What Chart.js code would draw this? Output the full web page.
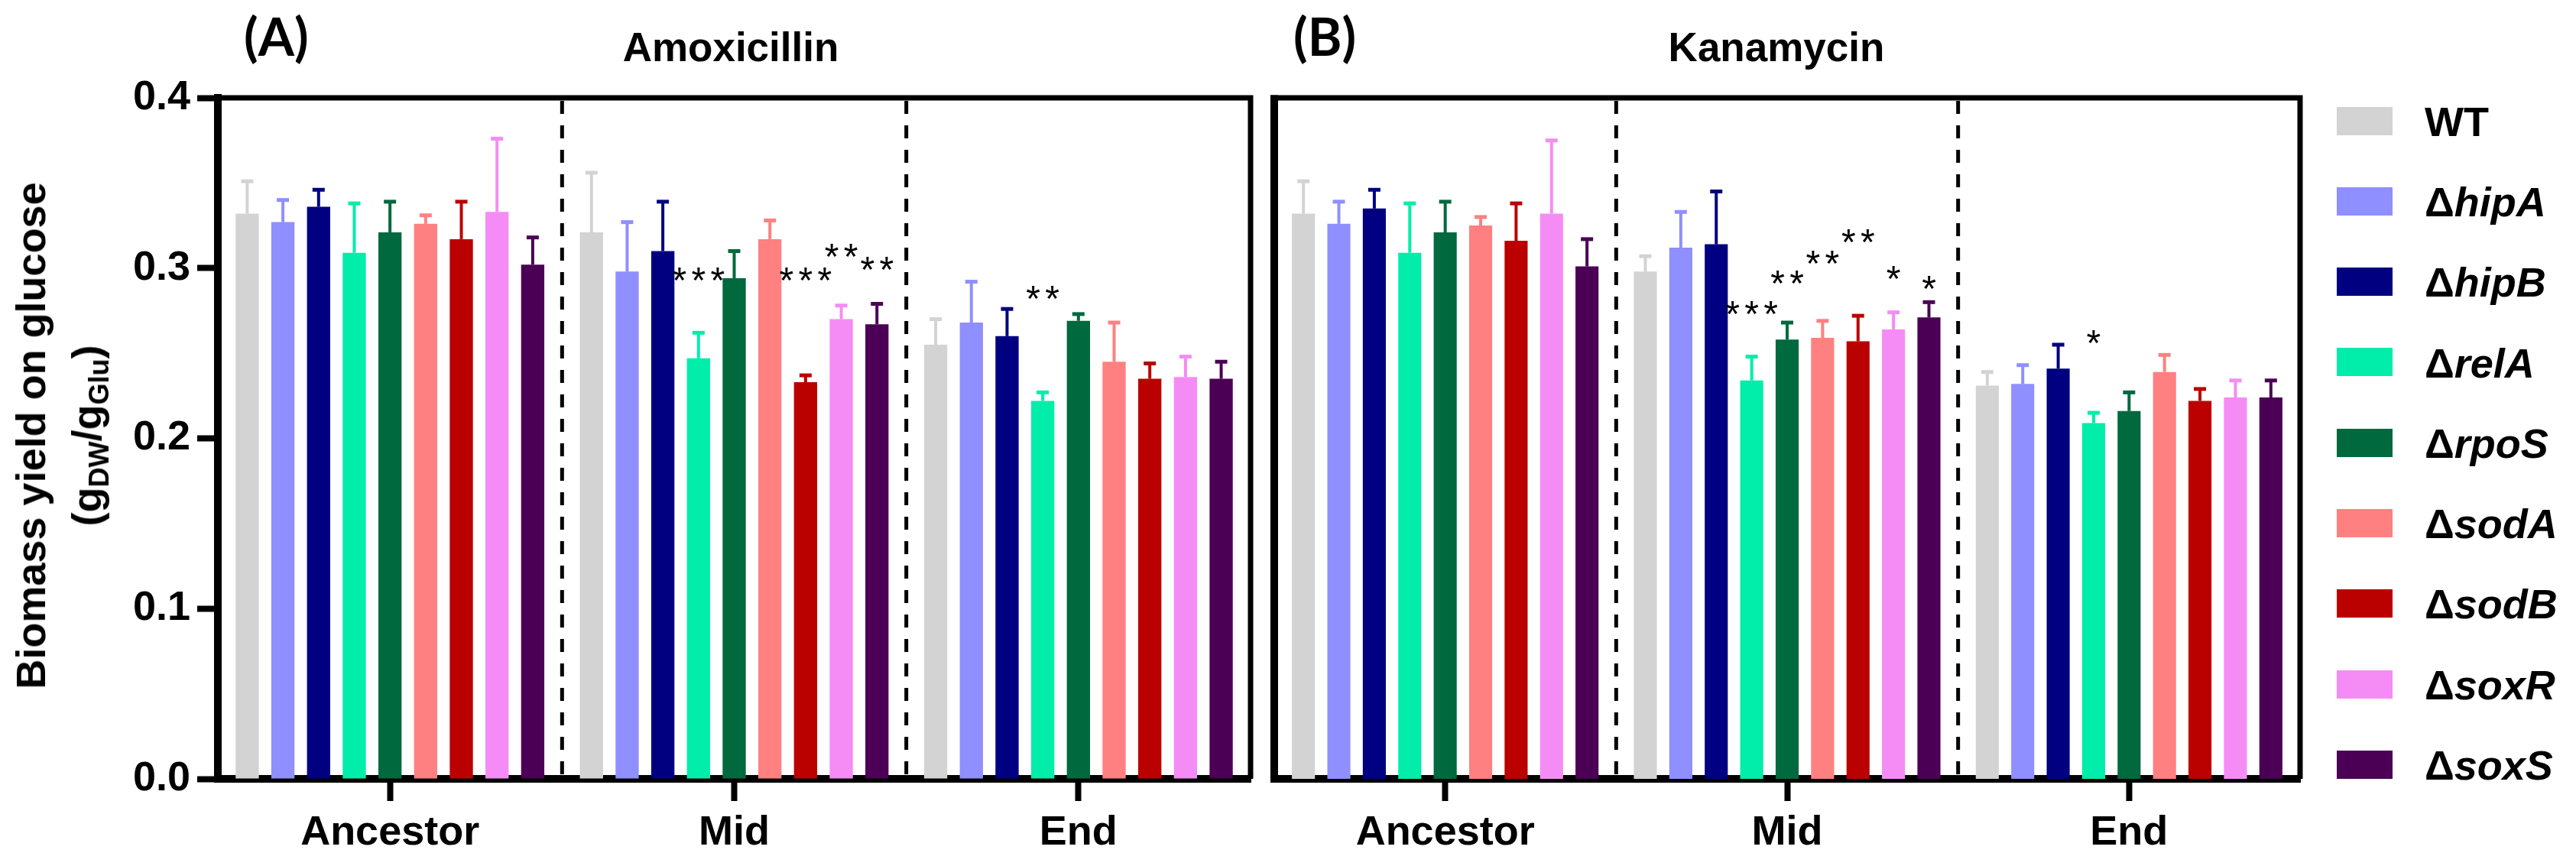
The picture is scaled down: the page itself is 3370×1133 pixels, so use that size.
<!DOCTYPE html>
<html>
<head>
<meta charset="utf-8">
<title>Biomass yield on glucose</title>
<script src="https://cdn.jsdelivr.net/npm/chart.js@4.4.1/dist/chart.umd.min.js"></script>
<style>
  html, body { margin: 0; padding: 0; background: #fff; }
  #page { position: relative; width: 3370px; height: 1133px; overflow: hidden;
          font-family: "Liberation Sans", Arial, sans-serif; color: #000; }
  canvas { position: absolute; top: 0; }
  .txt { position: absolute; line-height: 1; white-space: nowrap; font-weight: bold; }
  .panel { font-family: Lato, "Open Sans", sans-serif; font-size: 68px; font-weight: 700; }
  .title { font-size: 53px; transform: translateX(-50%); }
  .ytitle { font-size: 54px; transform: translate(-50%, -50%) rotate(-90deg); }
  .ytitle sub { font-size: 36px; vertical-align: -10px; line-height: 0; }
  .sw { position: absolute; width: 73px; height: 37px; }
  .leg { font-size: 54px; }
</style>
</head>
<body>
<div id="page">
  <canvas id="amox" width="1650" height="1133" style="left:0px;width:1650px;height:1133px"></canvas>
  <canvas id="kana" width="1720" height="1133" style="left:1650px;width:1720px;height:1133px"></canvas>

  <div class="txt panel" style="left:319px;top:13px">(A)</div>
  <div class="txt panel" style="left:1692px;top:13px">(B)</div>
  <div class="txt title" style="left:956px;top:35px">Amoxicillin</div>
  <div class="txt title" style="left:2324px;top:35px">Kanamycin</div>
  <div class="txt ytitle" style="left:40px;top:570px">Biomass yield on glucose</div>
  <div class="txt ytitle" style="left:113px;top:570px">(g<sub>DW</sub>/g<sub>Glu</sub>)</div>
  <div id="legend"></div>
</div>

<script>
const groups = ['Ancestor', 'Mid', 'End'];
const strains = ['WT', 'hipA', 'hipB', 'relA', 'rpoS', 'sodA', 'sodB', 'soxR', 'soxS'];
const colors = ['#D3D3D3', '#8F8FFF', '#000080', '#00EEAA', '#00693E',
                '#FF8080', '#BB0000', '#F58CF5', '#4B0055'];

// mean yield per strain: [Ancestor, Mid, End]
const amoxMean = [
  [0.332, 0.321, 0.255],
  [0.327, 0.298, 0.268],
  [0.336, 0.310, 0.260],
  [0.309, 0.247, 0.222],
  [0.321, 0.294, 0.269],
  [0.326, 0.317, 0.245],
  [0.317, 0.233, 0.235],
  [0.333, 0.270, 0.236],
  [0.302, 0.267, 0.235]
];
const amoxSd = [
  [0.019, 0.035, 0.015],
  [0.013, 0.029, 0.024],
  [0.010, 0.029, 0.016],
  [0.029, 0.015, 0.005],
  [0.018, 0.016, 0.004],
  [0.005, 0.011, 0.023],
  [0.022, 0.004, 0.009],
  [0.043, 0.008, 0.012],
  [0.016, 0.012, 0.010]
];
const kanaMean = [
  [0.332, 0.298, 0.231],
  [0.326, 0.312, 0.232],
  [0.335, 0.314, 0.241],
  [0.309, 0.234, 0.209],
  [0.321, 0.258, 0.216],
  [0.325, 0.259, 0.239],
  [0.316, 0.257, 0.222],
  [0.332, 0.264, 0.224],
  [0.301, 0.271, 0.224]
];
const kanaSd = [
  [0.019, 0.009, 0.008],
  [0.013, 0.021, 0.011],
  [0.011, 0.031, 0.014],
  [0.029, 0.014, 0.006],
  [0.018, 0.010, 0.011],
  [0.005, 0.010, 0.010],
  [0.022, 0.015, 0.007],
  [0.043, 0.010, 0.010],
  [0.016, 0.009, 0.010]
];
// significance marks: [group, strain, mark, level on the y axis]
const amoxStars = [
  [1, 3, '***', 0.298], [1, 6, '***', 0.298], [1, 7, '**', 0.312],
  [1, 8, '**', 0.304], [2, 3, '**', 0.287]
];
const kanaStars = [
  [1, 3, '***', 0.278], [1, 4, '**', 0.296], [1, 5, '**', 0.308],
  [1, 6, '**', 0.3205], [1, 7, '*', 0.299], [1, 8, '*', 0.293],
  [2, 3, '*', 0.261]
];
const yTicks = [0, 0.1, 0.2, 0.3, 0.4];

const FONT = '"Liberation Sans", Arial, sans-serif';

function decor(sd, stars, leftFrame) {
  return {
    id: 'decor',
    afterDatasetsDraw(chart) {
      const ctx = chart.ctx;
      const xs = chart.scales.x, ys = chart.scales.y, a = chart.chartArea;
      ctx.save();
      // error bars (upper only)
      chart.data.datasets.forEach((ds, i) => {
        chart.getDatasetMeta(i).data.forEach((bar, j) => {
          const top = ys.getPixelForValue(ds.data[j] + sd[i][j]);
          ctx.strokeStyle = ds.backgroundColor;
          ctx.lineWidth = 4;
          ctx.beginPath();
          ctx.moveTo(bar.x, bar.y);
          ctx.lineTo(bar.x, top);
          ctx.stroke();
          ctx.lineWidth = 5;
          ctx.beginPath();
          ctx.moveTo(bar.x - 8, top);
          ctx.lineTo(bar.x + 8, top);
          ctx.stroke();
        });
      });
      // dashed separators between time points
      ctx.strokeStyle = '#000';
      ctx.lineWidth = 5;
      ctx.setLineDash([17, 15]);
      for (let k = 0; k < groups.length - 1; k++) {
        const sx = (xs.getPixelForValue(k) + xs.getPixelForValue(k + 1)) / 2;
        ctx.beginPath();
        ctx.moveTo(sx, a.top + 4);
        ctx.lineTo(sx, a.bottom);
        ctx.stroke();
      }
      ctx.setLineDash([]);
      // frame
      ctx.lineWidth = 7;
      ctx.beginPath();
      ctx.moveTo(a.left - 5, a.top);
      ctx.lineTo(a.right + 3.5, a.top);
      ctx.moveTo(a.right, a.top);
      ctx.lineTo(a.right, a.bottom);
      ctx.stroke();
      if (leftFrame) {
        ctx.lineWidth = 10;
        ctx.beginPath();
        ctx.moveTo(a.left, a.top - 3.5);
        ctx.lineTo(a.left, a.bottom + 5);
        ctx.stroke();
      }
      // stars
      ctx.fillStyle = '#000';
      ctx.font = '48px ' + FONT;
      ctx.textAlign = 'center';
      ctx.textBaseline = 'alphabetic';
      stars.forEach(([g, s, mark, level]) => {
        const bar = chart.getDatasetMeta(s).data[g];
        const cy = ys.getPixelForValue(level) + 0.575 * 48;
        const step = 25;
        for (let c = 0; c < mark.length; c++) {
          ctx.fillText('*', bar.x + (c - (mark.length - 1) / 2) * step, cy);
        }
      });
      ctx.restore();
    }
  };
}

function makePanel(id, mean, sd, stars, withY, pad) {
  return new Chart(document.getElementById(id), {
    type: 'bar',
    data: {
      labels: groups,
      datasets: strains.map((s, i) => ({
        label: s,
        data: mean[i],
        backgroundColor: colors[i],
        borderWidth: 0,
        categoryPercentage: 0.933,
        barPercentage: 0.65
      }))
    },
    options: {
      responsive: false,
      animation: false,
      layout: { padding: pad },
      plugins: { legend: { display: false }, tooltip: { enabled: false } },
      scales: {
        x: {
          grid: { offset: false, drawOnChartArea: false, drawTicks: true,
                  tickLength: 29, tickWidth: 8, tickColor: '#000' },
          border: { display: true, width: 10, color: '#000' },
          ticks: { color: '#000', padding: 10, maxRotation: 0,
                   font: { family: FONT, size: 54, weight: 'bold' } },
          afterFit(s) { s.height = 114; }
        },
        y: {
          display: withY,
          min: 0,
          max: 0.4,
          afterBuildTicks(s) { s.ticks = yTicks.map(v => ({ value: v })); },
          ticks: { color: '#000', padding: 9, callback: v => v.toFixed(1),
                   font: { family: FONT, size: 54, weight: 'bold' } },
          grid: { drawOnChartArea: false, drawTicks: true, tickLength: 27,
                  tickWidth: 8, tickColor: '#000' },
          border: { display: true, width: 10, color: '#000' },
          afterFit(s) { s.width = withY ? 285 : 0; }
        }
      }
    },
    plugins: [decor(sd, stars, !withY)]
  });
}

makePanel('amox', amoxMean, amoxSd, amoxStars, true, { top: 128, left: 0, right: 14, bottom: 0 });
makePanel('kana', kanaMean, kanaSd, kanaStars, false, { top: 128, left: 17, right: 361, bottom: 0 });

// legend
const legend = document.getElementById('legend');
strains.forEach((s, i) => {
  const cy = 158 + 105.3 * i;
  const sw = document.createElement('div');
  sw.className = 'sw';
  sw.style.left = '3057px';
  sw.style.top = (cy - 18.5) + 'px';
  sw.style.background = colors[i];
  legend.appendChild(sw);
  const t = document.createElement('div');
  t.className = 'txt leg';
  t.style.left = '3172px';
  t.style.top = (cy - 26.4) + 'px';
  if (i === 0) {
    t.textContent = s;
  } else {
    t.append('\u0394');
    const it = document.createElement('i');
    it.textContent = s;
    t.appendChild(it);
  }
  legend.appendChild(t);
});
</script>
</body>
</html>
